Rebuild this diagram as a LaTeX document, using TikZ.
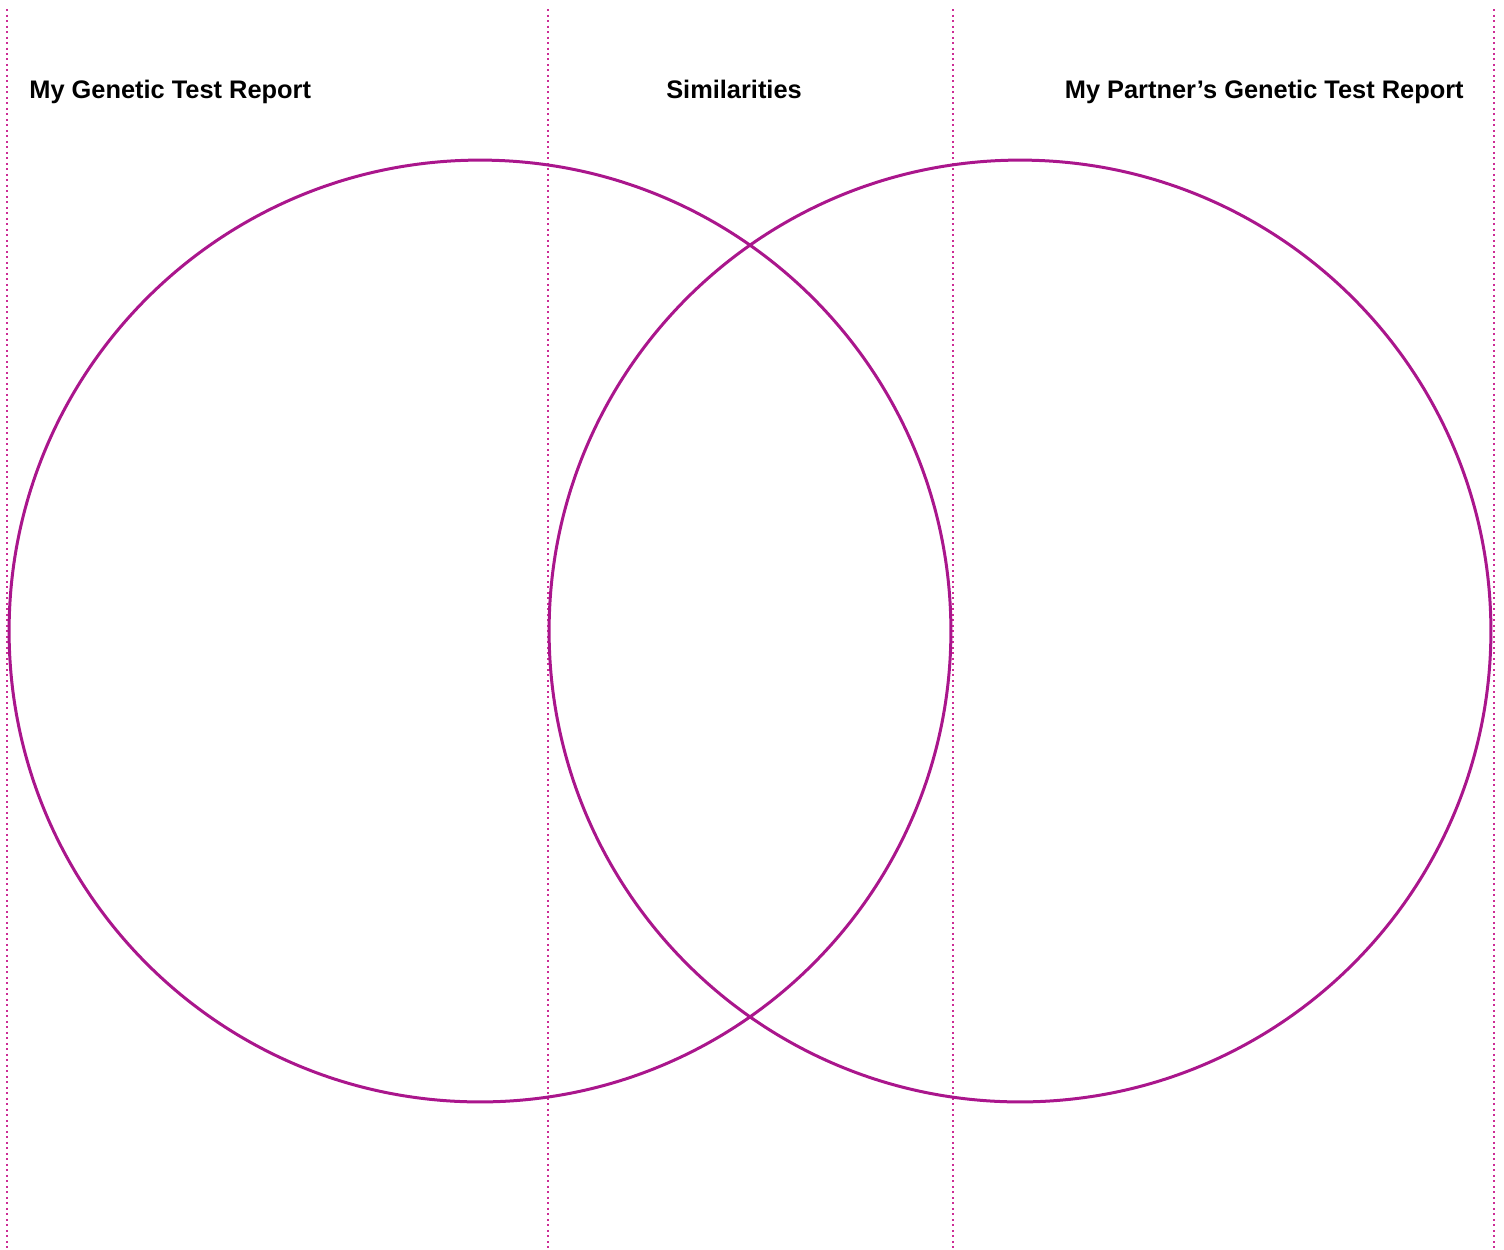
\documentclass[tikz,border=0pt]{standalone}
\usepackage{fontspec}
\setmainfont{Liberation Sans}
\definecolor{vennmagenta}{RGB}{170,22,140}
\definecolor{guidepink}{RGB}{205,45,150}
\tikzset{
  venn/.style={circle, draw=vennmagenta, line width=0.06cm, minimum size=18.84cm, inner sep=0pt},
  guide/.style={draw=guidepink, line width=0.045cm, dash pattern=on 0.04cm off 0.07cm},
  heading/.style={inner sep=0pt, font=\fontsize{14.45}{17}\selectfont\bfseries}
}
\begin{document}
\begin{tikzpicture}[x=0.02cm,y=-0.02cm]
  \useasboundingbox (0,0) rectangle (1504,1249);
  % fold guides
  \foreach \gx in {7,548,953,1494}
    \draw[guide] (\gx,9) -- (\gx,1249);
  % the two circles
  \node[venn] (mine) at (480,631) {};
  \node[venn] (partner) at (1020,631) {};
  % headings
  \node[heading, anchor=base west] (minetitle) at (29,98) {My Genetic Test Report};
  \node[heading, anchor=base] (sametitle) at (734,98) {Similarities};
  \node[heading, anchor=base east] (partnertitle) at (1464,98) {My Partner’s Genetic Test Report};
\end{tikzpicture}
\end{document}
